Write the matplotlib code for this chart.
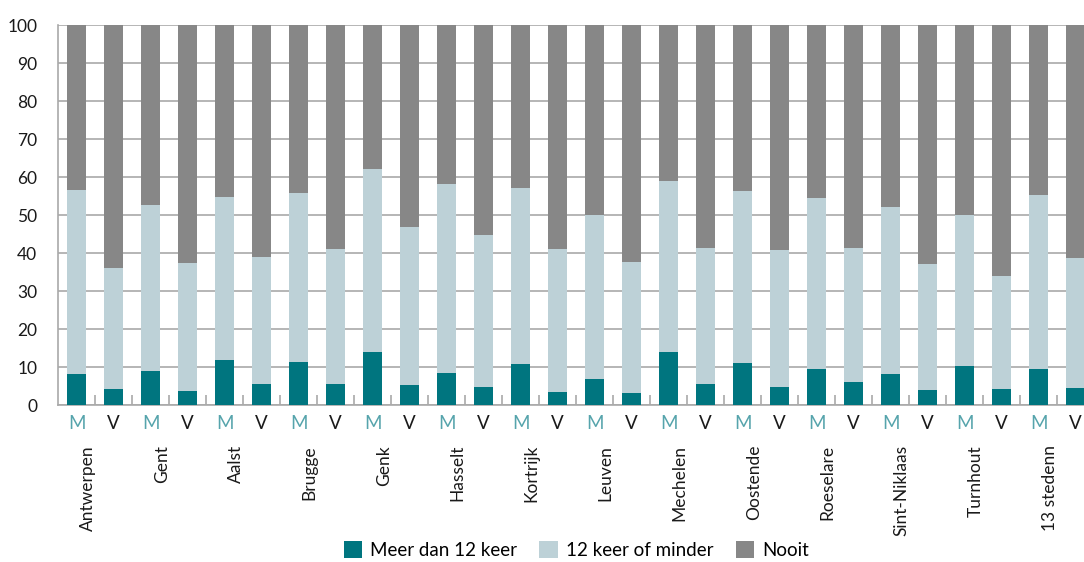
import numpy as np
import matplotlib
matplotlib.use("Agg")
import matplotlib.pyplot as plt
from matplotlib.patches import Patch

plt.rcParams["font.family"] = ["Lato", "DejaVu Sans"]

cities = ["Antwerpen", "Gent", "Aalst", "Brugge", "Genk", "Hasselt", "Kortrijk",
          "Leuven", "Mechelen", "Oostende", "Roeselare", "Sint-Niklaas",
          "Turnhout", "13 stedenn"]
sexes = ["M", "V"]

# waarden per stad (M = mannen, V = vrouwen), in %
meer_M = [8.2, 8.9, 11.8, 11.3, 13.9, 8.4, 10.8, 6.8, 13.9, 11.1, 9.5, 8.2, 10.3, 9.5]
minder_M = [48.4, 43.7, 42.9, 44.5, 48.2, 49.8, 46.3, 43.2, 45.0, 45.2, 45.0, 43.9, 39.7, 45.8]
nooit_M = [43.4, 47.4, 45.3, 44.2, 37.9, 41.8, 42.9, 50.0, 41.1, 43.7, 45.5, 47.9, 50.0, 44.7]
meer_V = [4.2, 3.7, 5.5, 5.5, 5.3, 4.7, 3.4, 3.2, 5.5, 4.7, 6.1, 3.9, 4.2, 4.5]
minder_V = [31.9, 33.7, 33.4, 35.6, 41.5, 40.0, 37.7, 34.4, 35.8, 36.1, 35.2, 33.2, 29.7, 34.2]
nooit_V = [63.9, 62.6, 61.1, 58.9, 53.2, 55.3, 58.9, 62.4, 58.7, 59.2, 58.7, 62.9, 66.1, 61.3]

series = ["Meer dan 12 keer", "12 keer of minder", "Nooit"]
colors = ["#00757f", "#bdd1d7", "#878787"]
m_color = "#56a4ac"


def interleave(a, b):
    out = []
    for u, v in zip(a, b):
        out += [u, v]
    return np.array(out)


meer = interleave(meer_M, meer_V)
minder = interleave(minder_M, minder_V)
nooit = interleave(nooit_M, nooit_V)
x = np.arange(len(meer))

fig = plt.figure(figsize=(10.84, 5.62), dpi=100)
W, H = 1084, 562
ax = fig.add_axes([58 / W, (H - 405) / H, (W - 58) / W, 380 / H])

bw = 0.52
bottom = np.zeros(len(x))
for vals, c in zip([meer, minder, nooit], colors):
    ax.bar(x, vals, bw, bottom=bottom, color=c, zorder=3)
    bottom = bottom + vals

# assen
ax.set_xlim(-0.5, -0.5 + (W - 58) / 37)
ax.set_ylim(0, 100)
ax.set_yticks(np.arange(0, 101, 10))
ax.yaxis.grid(True, color="#a9a9a9", linewidth=1.2, zorder=0)
ax.set_axisbelow(True)
for s in ["top", "right"]:
    ax.spines[s].set_visible(False)
for s in ["left", "bottom"]:
    ax.spines[s].set_color("#a9a9a9")
    ax.spines[s].set_linewidth(1.2)
ax.tick_params(axis="y", length=0, pad=15, labelsize=12.5, labelcolor="#1a1a1a")

ax.set_xticks(x)
ax.set_xticklabels(sexes * len(cities))
ax.tick_params(axis="x", length=0, pad=7, labelsize=13.5, labelcolor="#1a1a1a")
for i, lbl in enumerate(ax.get_xticklabels()):
    if i % 2 == 0:
        lbl.set_color(m_color)
ax.set_xticks(np.arange(0.5, len(x) - 1, 1), minor=True)
ax.tick_params(axis="x", which="minor", direction="in", length=7, width=1.2,
               color="#a9a9a9")

# stadsnamen
trans = ax.get_xaxis_transform()
for i, c in enumerate(cities):
    ax.text(2 * i + 0.52, -0.105, c, rotation=90, ha="right", va="top",
            fontsize=12.5, color="#1a1a1a", transform=trans)

handles = [Patch(facecolor=c, edgecolor="none") for c in colors]
fig.legend(handles, series, loc="center", bbox_to_anchor=(576 / W, (H - 550) / H),
           ncol=3, frameon=False, fontsize=13.5, handlelength=1.0, handleheight=1.0,
           handletextpad=0.4, columnspacing=1.2, borderaxespad=0, borderpad=0)

fig.savefig("out.png", dpi=100)
